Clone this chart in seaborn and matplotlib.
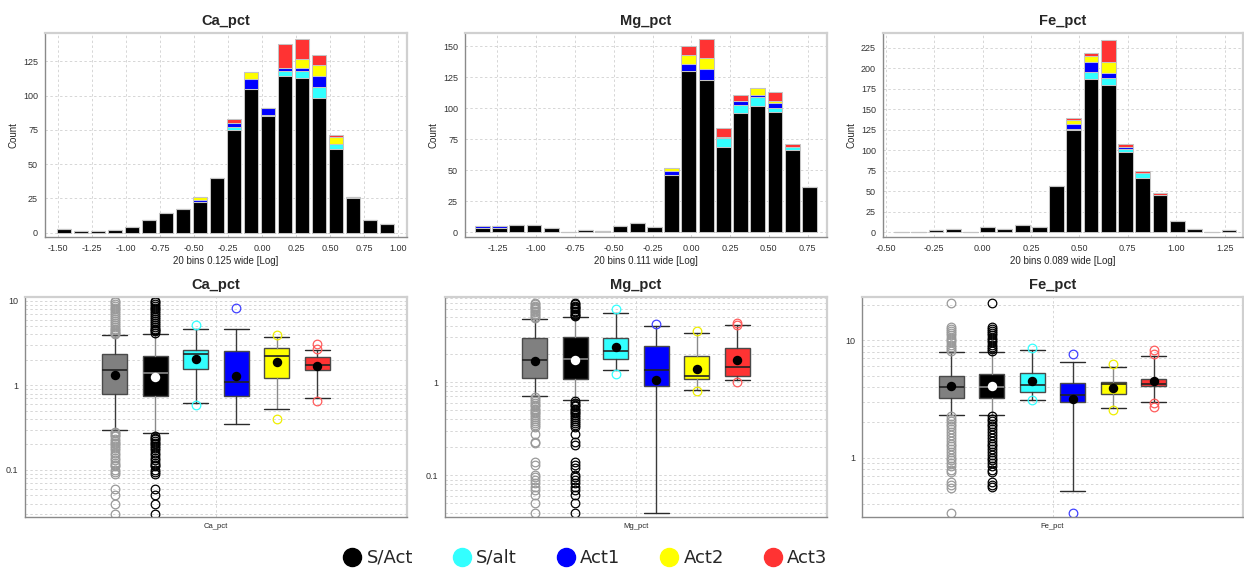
import numpy as np
import pandas as pd
import matplotlib
matplotlib.use("Agg")
import matplotlib.pyplot as plt
from matplotlib.lines import Line2D
from matplotlib.ticker import FixedLocator, FuncFormatter, NullFormatter, LogLocator
import seaborn as sns

# ---------------------------------------------------------------- categories
GROUPS = ["S/Act", "S/alt", "Act1", "Act2", "Act3"]
COLORS = ["#000000", "#33ffff", "#0000ff", "#ffff00", "#ff3333"]
BOX_GROUPS = ["All", "S/Act", "S/alt", "Act1", "Act2", "Act3"]
BOX_FACES = ["#808080", "#000000", "#33ffff", "#0000ff", "#ffff00", "#ff3333"]
FLIER_COLORS = ["#9a9a9a", "#000000", "#33ffff", "#4040ff", "#eeee00", "#ff5c5c"]

# ---------------------------------------------------------------- histograms (log10 of pct)
CA_BIN_START, CA_BIN_WIDTH = -1.52, 0.125
CA_SACT = [3, 1, 1, 2, 4, 9, 14, 17, 22, 40, 75, 105, 85, 114, 113, 98, 61, 25, 9, 6]
CA_SALT = [0, 0, 0, 0, 0, 0, 0, 0, 0, 0, 2, 0, 1, 4, 5, 8, 4, 1, 0, 0]
CA_ACT1 = [0, 0, 0, 0, 0, 0, 0, 0, 2, 0, 3, 7, 5, 2, 2, 8, 0, 0, 0, 0]
CA_ACT2 = [0, 0, 0, 0, 0, 0, 0, 0, 2, 0, 0, 5, 0, 0, 7, 8, 5, 0, 0, 0]
CA_ACT3 = [0, 0, 0, 0, 0, 0, 0, 0, 0, 0, 3, 0, 0, 18, 14, 8, 1, 0, 0, 0]

MG_BIN_START, MG_BIN_WIDTH = -1.403, 0.111
MG_SACT = [3, 3, 6, 6, 3, 0, 2, 1, 5, 7, 4, 46, 130, 123, 69, 96, 102, 97, 66, 36]
MG_SALT = [0, 0, 0, 0, 0, 0, 0, 0, 0, 0, 0, 0, 0, 0, 7, 7, 7, 3, 3, 0]
MG_ACT1 = [2, 2, 0, 0, 0, 0, 0, 0, 0, 0, 0, 3, 6, 9, 1, 3, 2, 4, 0, 0]
MG_ACT2 = [0, 0, 0, 0, 0, 0, 0, 0, 0, 0, 0, 3, 7, 9, 0, 0, 5, 2, 0, 0]
MG_ACT3 = [0, 0, 0, 0, 0, 0, 0, 0, 0, 0, 0, 0, 7, 15, 7, 5, 0, 7, 2, 0]

FE_BIN_START, FE_BIN_WIDTH = -0.463, 0.089
FE_SACT = [0, 0, 2, 4, 0, 6, 4, 9, 6, 56, 124, 187, 180, 98, 66, 45, 13, 4, 0, 2]
FE_SALT = [0, 0, 0, 0, 0, 0, 0, 0, 0, 0, 2, 9, 8, 3, 6, 0, 0, 0, 0, 0]
FE_ACT1 = [0, 0, 0, 0, 0, 0, 0, 0, 0, 0, 6, 11, 6, 3, 0, 0, 0, 0, 0, 0]
FE_ACT2 = [0, 0, 0, 0, 0, 0, 0, 0, 0, 0, 5, 8, 13, 0, 0, 0, 0, 0, 0, 0]
FE_ACT3 = [0, 0, 0, 0, 0, 0, 0, 0, 0, 0, 2, 4, 28, 3, 3, 3, 0, 0, 0, 0]

# ---------------------------------------------------------------- box statistics (pct)
CA_LOW = [0.30, 0.27, 0.62, 0.35, 0.52, 0.70]
CA_Q1 = [0.80, 0.74, 1.55, 0.74, 1.22, 1.50]
CA_MED = [1.50, 1.40, 2.37, 1.10, 2.22, 1.76]
CA_Q3 = [2.37, 2.22, 2.64, 2.55, 2.79, 2.16]
CA_HIGH = [3.90, 4.09, 4.69, 4.69, 3.73, 2.64]
CA_MEAN = [1.31, 1.25, 2.05, 1.30, 1.89, 1.71]
CA_OUT_ALL = [10, 9.6, 9.2, 8.6, 8.2, 7.9, 7.5, 7.2, 6.8, 6.4, 6.1, 5.8, 5.5, 5.2, 4.9,
              4.7, 4.5, 4.3, 4.15, 4.0,
              0.28, 0.27, 0.26, 0.25, 0.23, 0.22, 0.21, 0.20, 0.19, 0.18, 0.17, 0.16,
              0.15, 0.14, 0.13, 0.12, 0.115, 0.11, 0.10, 0.095, 0.09,
              0.06, 0.05, 0.04, 0.03]
CA_OUT_SACT = [10, 9.6, 9.2, 8.6, 8.2, 7.9, 7.5, 7.2, 6.8, 6.4, 6.1, 5.8, 5.5, 5.2, 4.9,
               4.7, 4.5, 4.35, 4.2,
               0.25, 0.24, 0.23, 0.22, 0.21, 0.20, 0.19, 0.18, 0.17, 0.16,
               0.15, 0.14, 0.13, 0.12, 0.115, 0.11, 0.10, 0.095, 0.09,
               0.06, 0.05, 0.04, 0.03]
CA_OUT_SALT = [5.2, 0.58]
CA_OUT_ACT1 = [8.2]
CA_OUT_ACT2 = [3.98, 0.40]
CA_OUT_ACT3 = [3.1, 2.67, 0.65]

MG_LOW = [0.71, 0.64, 1.33, 0.040, 0.83, 1.04]
MG_Q1 = [1.10, 1.07, 1.78, 0.90, 1.085, 1.16]
MG_MED = [1.73, 1.78, 2.13, 1.33, 1.15, 1.45]
MG_Q3 = [2.96, 3.03, 2.96, 2.43, 1.88, 2.33]
MG_HIGH = [4.77, 4.97, 5.53, 3.98, 3.38, 4.11]
MG_MEAN = [1.68, 1.71, 2.37, 1.06, 1.37, 1.71]
MG_OUT_ALL = [7.0, 6.8, 6.6, 6.4, 6.2, 6.0, 5.8, 5.6, 5.4, 5.2, 5.0, 4.85,
              0.69, 0.66, 0.63, 0.60, 0.57, 0.55, 0.52, 0.50, 0.48, 0.46, 0.44, 0.42,
              0.40, 0.38, 0.36, 0.345, 0.33, 0.28, 0.23, 0.22, 0.14, 0.13,
              0.10, 0.095, 0.09, 0.082, 0.075, 0.07, 0.062, 0.05, 0.04]
MG_OUT_SACT = [7.0, 6.8, 6.6, 6.4, 6.2, 6.0, 5.8, 5.6, 5.4, 5.2, 5.05,
               0.62, 0.60, 0.57, 0.55, 0.52, 0.50, 0.48, 0.46, 0.44, 0.42,
               0.40, 0.38, 0.36, 0.345, 0.33, 0.28, 0.23, 0.21, 0.14, 0.13, 0.12,
               0.10, 0.095, 0.09, 0.082, 0.075, 0.07, 0.062, 0.05, 0.04]
MG_OUT_SALT = [6.0, 1.21]
MG_OUT_ACT1 = [4.22]
MG_OUT_ACT2 = [3.49, 0.80]
MG_OUT_ACT3 = [4.32, 4.1, 1.0]

FE_LOW = [2.33, 2.33, 3.08, 0.52, 2.67, 2.98]
FE_Q1 = [3.25, 3.25, 3.63, 2.98, 3.46, 4.11]
FE_MED = [4.03, 4.03, 4.19, 3.44, 4.22, 4.27]
FE_Q3 = [4.97, 5.13, 5.30, 4.36, 4.42, 4.71]
FE_HIGH = [7.96, 7.96, 8.22, 6.54, 5.89, 7.31]
FE_MEAN = [4.08, 4.08, 4.47, 3.14, 3.95, 4.47]
FE_OUT_ALL = [20.8, 13.0, 12.5, 12.0, 11.5, 11.0, 10.5, 10.0, 9.6, 9.2, 8.8, 8.4, 8.1,
              2.25, 2.15, 2.05, 1.95, 1.85, 1.75, 1.65, 1.55, 1.48, 1.40, 1.32, 1.25,
              1.18, 1.12, 1.06, 1.0, 0.95, 0.90, 0.85, 0.78, 0.75, 0.62, 0.58, 0.55, 0.34]
FE_OUT_SACT = [20.8, 13.0, 12.5, 12.0, 11.5, 11.0, 10.5, 10.0, 9.6, 9.2, 8.8, 8.4, 8.1,
               2.25, 2.15, 2.05, 1.95, 1.85, 1.75, 1.65, 1.55, 1.48, 1.40, 1.32, 1.25,
               1.18, 1.12, 1.06, 1.0, 0.95, 0.90, 0.85, 0.78, 0.75, 0.62, 0.58, 0.56]
FE_OUT_SALT = [8.66, 3.08]
FE_OUT_ACT1 = [7.6, 0.34]
FE_OUT_ACT2 = [6.33, 2.56]
FE_OUT_ACT3 = [8.33, 7.7, 2.94, 2.70]

# ---------------------------------------------------------------- styling
sns.set_style("white")
plt.rcParams["font.family"] = ["Liberation Sans", "DejaVu Sans"]
plt.rcParams["axes.unicode_minus"] = False

GRID = dict(color="#d6d6d6", linestyle=(0, (2.5, 2.5)), linewidth=0.7)
AXIS_DARK = "#8a8a8a"
AXIS_LIGHT = "#d0d0d0"

fig = plt.figure(figsize=(12.44, 5.72), dpi=100)
W, H = 1244.0, 572.0


def add_axes(x0, y0, x1, y1):
    return fig.add_axes([x0 / W, 1 - y1 / H, (x1 - x0) / W, (y1 - y0) / H])


def frame(ax):
    for side in ("left", "bottom"):
        ax.spines[side].set_color(AXIS_DARK)
        ax.spines[side].set_linewidth(1.0)
    for side in ("top", "right"):
        ax.spines[side].set_color(AXIS_LIGHT)
        ax.spines[side].set_linewidth(1.6)
    ax.tick_params(axis="both", labelsize=6.5, colors="#333333", length=3,
                   width=0.7, direction="out", pad=2)
    ax.tick_params(axis="both", which="both", color=AXIS_DARK)


def draw_hist(ax, counts, start, width, xticks, yticks, xlim, ylim, title, xlabel):
    n = len(counts[0])
    centers = start + width * (np.arange(n) + 0.5)
    edges = (start + width * np.arange(n + 1)).tolist()
    df = pd.concat(
        [pd.DataFrame({"value": centers, "count": c, "group": g})
         for g, c in zip(GROUPS, counts)],
        ignore_index=True,
    )
    sns.histplot(data=df, x="value", weights="count", hue="group",
                 hue_order=GROUPS[::-1], palette=dict(zip(GROUPS, COLORS)),
                 bins=edges, multiple="stack", shrink=0.86, alpha=1,
                 edgecolor="#c4c4c4", linewidth=0.75, legend=False, ax=ax)
    ax.set_xlim(*xlim)
    ax.set_ylim(*ylim)
    ax.xaxis.set_major_locator(FixedLocator(xticks))
    ax.xaxis.set_major_formatter(FuncFormatter(lambda v, p: f"{v:.2f}"))
    ax.yaxis.set_major_locator(FixedLocator(yticks))
    ax.grid(True, **GRID)
    ax.set_axisbelow(True)
    frame(ax)
    ax.set_title(title, fontsize=10.5, fontweight="bold", pad=6)
    ax.set_xlabel(xlabel, fontsize=7, labelpad=2)
    ax.set_ylabel("Count", fontsize=7, labelpad=3)


def draw_box(ax, low, q1, med, q3, high, mean, fliers, ylim, yticks, title):
    stats = [dict(whislo=low[i], q1=q1[i], med=med[i], q3=q3[i], whishi=high[i],
                  mean=mean[i], fliers=fliers[i], label=BOX_GROUPS[i])
             for i in range(len(BOX_GROUPS))]
    positions = np.arange(len(BOX_GROUPS)) - (len(BOX_GROUPS) - 1) / 2
    art = ax.bxp(stats, positions=positions, widths=0.62, capwidths=0.62,
                 patch_artist=True, showmeans=True, manage_ticks=False,
                 boxprops=dict(linewidth=1.0, edgecolor="#4a4a4a"),
                 whiskerprops=dict(linewidth=1.0, color="#3a3a3a"),
                 capprops=dict(linewidth=1.0, color="#2a2a2a"),
                 medianprops=dict(linewidth=1.2, color="#222222"),
                 meanprops=dict(marker="o", markersize=6.8, markerfacecolor="black",
                                markeredgecolor="none"),
                 flierprops=dict(marker="o", markersize=6.2, markerfacecolor="none",
                                 markeredgewidth=0.9, linestyle="none"))
    for i, patch in enumerate(art["boxes"]):
        patch.set_facecolor(BOX_FACES[i])
        art["fliers"][i].set_markeredgecolor(FLIER_COLORS[i])
    # black group: light median, white mean, grey whisker stem
    art["medians"][1].set_color("#8a8a8a")
    art["means"][1].set_markerfacecolor("white")
    for j in (2, 3, 8, 9):
        art["whiskers"][j].set_color("#8a8a8a")
    ax.set_yscale("log")
    ax.set_ylim(*ylim)
    ax.set_xlim(-4.71, 4.71)
    ax.yaxis.set_major_locator(FixedLocator(yticks))
    ax.yaxis.set_major_formatter(FuncFormatter(lambda v, p: f"{v:g}"))
    ax.yaxis.set_minor_locator(LogLocator(base=10, subs=np.arange(2, 10)))
    ax.yaxis.set_minor_formatter(NullFormatter())
    ax.set_xticks([0])
    ax.set_xticklabels([])
    ax.grid(True, which="both", axis="y", **GRID)
    ax.grid(True, which="major", axis="x", **GRID)
    ax.set_axisbelow(True)
    frame(ax)
    ax.tick_params(axis="x", length=0)
    ax.tick_params(axis="y", which="minor", length=0)
    ax.set_title(title, fontsize=10.5, fontweight="bold", pad=6)
    ax.set_xlabel(title, fontsize=5.5, labelpad=2)


# ---------------------------------------------------------------- top row: stacked histograms
ax = add_axes(45, 33, 407, 237)
draw_hist(ax, [CA_SACT, CA_SALT, CA_ACT1, CA_ACT2, CA_ACT3], CA_BIN_START, CA_BIN_WIDTH,
          np.arange(-1.5, 1.01, 0.25), np.arange(0, 126, 25), (-1.598, 1.066), (-3.2, 145.7),
          "Ca_pct", "20 bins 0.125 wide [Log]")

ax = add_axes(465, 33, 827, 237)
draw_hist(ax, [MG_SACT, MG_SALT, MG_ACT1, MG_ACT2, MG_ACT3], MG_BIN_START, MG_BIN_WIDTH,
          np.arange(-1.25, 0.76, 0.25), np.arange(0, 151, 25), (-1.459, 0.875), (-4.0, 160.8),
          "Mg_pct", "20 bins 0.111 wide [Log]")

ax = add_axes(883, 33, 1243, 237)
draw_hist(ax, [FE_SACT, FE_SALT, FE_ACT1, FE_ACT2, FE_ACT3], FE_BIN_START, FE_BIN_WIDTH,
          np.arange(-0.5, 1.26, 0.25), np.arange(0, 226, 25), (-0.514, 1.345), (-6.0, 243.0),
          "Fe_pct", "20 bins 0.089 wide [Log]")

# ---------------------------------------------------------------- bottom row: box plots
ax = add_axes(25, 297, 407, 517)
draw_box(ax, CA_LOW, CA_Q1, CA_MED, CA_Q3, CA_HIGH, CA_MEAN,
         [CA_OUT_ALL, CA_OUT_SACT, CA_OUT_SALT, CA_OUT_ACT1, CA_OUT_ACT2, CA_OUT_ACT3],
         (0.0277, 11.1), [0.1, 1, 10], "Ca_pct")

ax = add_axes(445, 297, 827, 517)
draw_box(ax, MG_LOW, MG_Q1, MG_MED, MG_Q3, MG_HIGH, MG_MEAN,
         [MG_OUT_ALL, MG_OUT_SACT, MG_OUT_SALT, MG_OUT_ACT1, MG_OUT_ACT2, MG_OUT_ACT3],
         (0.0358, 8.14), [0.1, 1], "Mg_pct")

ax = add_axes(862, 297, 1243, 517)
draw_box(ax, FE_LOW, FE_Q1, FE_MED, FE_Q3, FE_HIGH, FE_MEAN,
         [FE_OUT_ALL, FE_OUT_SACT, FE_OUT_SALT, FE_OUT_ACT1, FE_OUT_ACT2, FE_OUT_ACT3],
         (0.312, 23.4), [1, 10], "Fe_pct")

# ---------------------------------------------------------------- shared legend
handles = [Line2D([0], [0], marker="o", linestyle="none", markersize=13,
                  markerfacecolor=c, markeredgecolor=c) for c in COLORS]
fig.legend(handles, GROUPS, loc="center", bbox_to_anchor=(585.5 / W, 1 - 558 / H),
           ncol=5, frameon=False, handlelength=1.0, handletextpad=0.3,
           columnspacing=2.2, borderpad=0, prop={"family": "DejaVu Sans", "size": 13})

fig.savefig("out.png", dpi=100)
